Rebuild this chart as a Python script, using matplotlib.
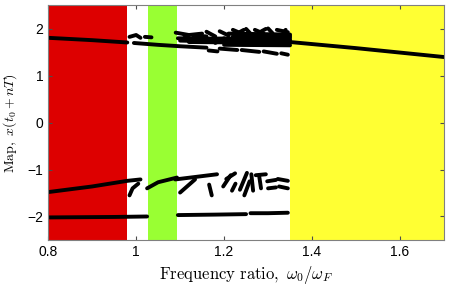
import numpy as np
import matplotlib.pyplot as plt

plt.rcParams['mathtext.fontset'] = 'cm'
plt.rcParams['font.family'] = ['Liberation Sans', 'DejaVu Sans']

# shaded regions (x start, x end, colour)
regions = [(0.80, 0.98, '#dd0000'), (1.027, 1.093, '#99ff33'), (1.35, 1.70, '#ffff33')]

# smooth branches of the map, as (x list, y list)
branches = [
    ([0.80, 0.90, 0.98], [1.81, 1.76, 1.71]),
    ([0.985, 1.00, 1.01], [1.83, 1.87, 1.81]),
    ([0.995, 1.05, 1.10, 1.16], [1.70, 1.66, 1.63, 1.60]),
    ([1.02, 1.035], [1.83, 1.82]),
    ([1.35, 1.50, 1.70], [1.72, 1.59, 1.40]),
    ([0.80, 0.90, 0.98, 1.01], [-1.48, -1.36, -1.24, -1.21]),
    ([0.985, 0.992, 1.005], [-1.55, -1.40, -1.30]),
    ([1.025, 1.05, 1.093], [-1.40, -1.27, -1.17]),
    ([0.80, 0.95, 1.025], [-2.02, -2.01, -2.00]),
    ([1.095, 1.18, 1.25], [-1.97, -1.96, -1.95]),
    ([1.26, 1.30, 1.345], [-1.93, -1.93, -1.92]),
]

# short strokes of the irregular band on top, (x0, y0, x1, y1)
top_strokes = [
    (1.09, 1.92, 1.12, 1.87), (1.095, 1.80, 1.35, 1.78), (1.13, 1.86, 1.16, 1.84),
    (1.16, 1.94, 1.18, 1.84), (1.19, 1.95, 1.21, 1.86), (1.21, 1.90, 1.35, 1.88),
    (1.22, 1.98, 1.24, 1.90), (1.25, 2.00, 1.26, 1.90), (1.27, 1.98, 1.29, 1.90),
    (1.30, 2.01, 1.31, 1.91), (1.32, 1.98, 1.345, 1.93), (1.12, 1.72, 1.35, 1.70),
    (1.19, 1.58, 1.23, 1.55), (1.24, 1.55, 1.28, 1.51), (1.29, 1.52, 1.32, 1.47),
    (1.33, 1.48, 1.345, 1.45), (1.165, 1.54, 1.185, 1.52), (1.15, 1.78, 1.35, 1.82),
    (1.10, 1.75, 1.20, 1.73), (1.20, 1.76, 1.35, 1.75), (1.20, 1.66, 1.35, 1.65),
    (1.22, 1.84, 1.35, 1.85), (1.11, 1.86, 1.15, 1.90), (1.18, 1.70, 1.20, 1.80),
    (1.235, 1.93, 1.245, 1.98), (1.285, 1.95, 1.295, 2.0), (1.335, 1.92, 1.34, 1.98),
]

# short strokes of the irregular band below, (x0, y0, x1, y1)
low_strokes = [
    (1.089, -1.21, 1.184, -1.10), (1.10, -1.49, 1.134, -1.21), (1.166, -1.32, 1.172, -1.55),
    (1.198, -1.36, 1.215, -1.12), (1.205, -1.20, 1.225, -1.08), (1.218, -1.45, 1.226, -1.30),
    (1.236, -1.43, 1.252, -1.07), (1.246, -1.55, 1.258, -1.25), (1.262, -1.10, 1.266, -1.45),
    (1.272, -1.12, 1.295, -1.10), (1.280, -1.15, 1.284, -1.40), (1.298, -1.25, 1.318, -1.22),
    (1.300, -1.40, 1.318, -1.38), (1.322, -1.20, 1.345, -1.24), (1.325, -1.36, 1.345, -1.40),
]

xticks = [0.8, 1.0, 1.2, 1.4, 1.6]
xtick_labels = ['0.8', '1', '1.2', '1.4', '1.6']
yticks = [-2, -1, 0, 1, 2]

fig = plt.figure(figsize=(4.54, 2.87), dpi=100)
ax = fig.add_axes([0.106, 0.164, 0.872, 0.817])

for x0, x1, c in regions:
    ax.axvspan(x0, x1, color=c, lw=0, zorder=0)

for xs, ys in branches:
    ax.plot(xs, ys, color='k', lw=2.8, solid_capstyle='round', zorder=2)
for x0, y0, x1, y1 in top_strokes + low_strokes:
    ax.plot([x0, x1], [y0, y1], color='k', lw=2.8, solid_capstyle='round', zorder=2)

ax.set_xlim(0.8, 1.7)
ax.set_ylim(-2.5, 2.5)
ax.set_xticks(xticks)
ax.set_xticklabels(xtick_labels)
ax.set_yticks(yticks)
ax.tick_params(direction='in', top=True, right=True, labelsize=10, length=3, color='0.3')
for s in ax.spines.values():
    s.set_color('0.5')
    s.set_linewidth(0.8)

ax.set_xlabel(r'$\mathrm{Frequency\ ratio,}\ \omega_0/\omega_F$', fontsize=12)
ax.set_ylabel(r'$\mathrm{Map,}\ x(t_0+nT)$', fontsize=10, labelpad=6)

fig.savefig('out.png', dpi=100)
